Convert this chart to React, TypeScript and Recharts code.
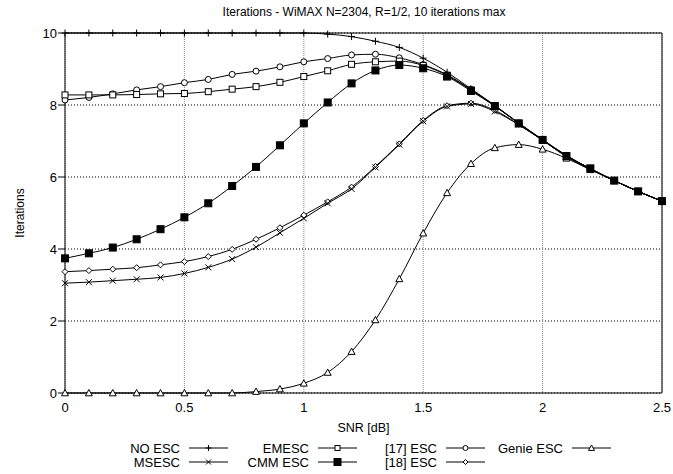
import { LineChart, Line, XAxis, YAxis, CartesianGrid, ReferenceLine } from 'recharts'

const snr = [0, 0.1, 0.2, 0.3, 0.4, 0.5, 0.6, 0.7, 0.8, 0.9, 1, 1.1, 1.2, 1.3, 1.4, 1.5, 1.6, 1.7, 1.8, 1.9, 2, 2.1, 2.2, 2.3, 2.4, 2.5]

const noEsc = [10, 10, 10, 10, 10, 10, 10, 10, 10, 10, 10, 9.97, 9.9, 9.77, 9.6, 9.3, 8.91, 8.45, 7.99, 7.5, 7.04, 6.6, 6.23, 5.9, 5.6, 5.33]
const msEsc = [3.05, 3.08, 3.12, 3.16, 3.21, 3.32, 3.49, 3.72, 4.05, 4.45, 4.85, 5.27, 5.67, 6.27, 6.9, 7.55, 7.96, 8.03, 7.82, 7.45, 7.02, 6.57, 6.22, 5.9, 5.6, 5.33]
const emEsc = [8.28, 8.28, 8.28, 8.29, 8.31, 8.32, 8.37, 8.44, 8.51, 8.63, 8.79, 8.95, 9.13, 9.2, 9.22, 9.1, 8.82, 8.42, 7.98, 7.49, 7.03, 6.59, 6.23, 5.9, 5.6, 5.33]
const cmmEsc = [3.74, 3.88, 4.04, 4.27, 4.55, 4.88, 5.27, 5.75, 6.28, 6.88, 7.49, 8.07, 8.6, 8.96, 9.11, 9.02, 8.79, 8.39, 7.97, 7.49, 7.03, 6.58, 6.24, 5.9, 5.6, 5.33]
const esc17 = [8.14, 8.21, 8.31, 8.42, 8.51, 8.62, 8.71, 8.85, 8.94, 9.06, 9.2, 9.29, 9.39, 9.41, 9.31, 9.12, 8.84, 8.43, 7.98, 7.49, 7.03, 6.59, 6.23, 5.9, 5.6, 5.33]
const esc18 = [3.37, 3.4, 3.44, 3.48, 3.56, 3.65, 3.79, 3.99, 4.27, 4.59, 4.94, 5.31, 5.72, 6.29, 6.92, 7.57, 7.98, 8.05, 7.85, 7.46, 7.02, 6.57, 6.22, 5.9, 5.6, 5.33]
const genieEsc = [0, 0, 0, 0, 0, 0, 0, 0, 0.04, 0.11, 0.27, 0.57, 1.15, 2.03, 3.17, 4.44, 5.56, 6.37, 6.81, 6.9, 6.77, 6.52, 6.2, 5.9, 5.6, 5.33]

const xTicks = [0, 0.5, 1, 1.5, 2, 2.5]
const yTicks = [0, 2, 4, 6, 8, 10]

type Shape = 'plus' | 'cross' | 'square' | 'fsquare' | 'circle' | 'diamond' | 'triangle'

// legend order (column-major, two rows)
const series: { key: string; name: string; values: number[]; shape: Shape }[] = [
  { key: 'noEsc', name: 'NO ESC', values: noEsc, shape: 'plus' },
  { key: 'msEsc', name: 'MSESC', values: msEsc, shape: 'cross' },
  { key: 'emEsc', name: 'EMESC', values: emEsc, shape: 'square' },
  { key: 'cmmEsc', name: 'CMM ESC', values: cmmEsc, shape: 'fsquare' },
  { key: 'esc17', name: '[17] ESC', values: esc17, shape: 'circle' },
  { key: 'esc18', name: '[18] ESC', values: esc18, shape: 'diamond' },
  { key: 'genieEsc', name: 'Genie ESC', values: genieEsc, shape: 'triangle' },
]

// draw order: filled squares last
const drawOrder = ['genieEsc', 'esc18', 'msEsc', 'esc17', 'emEsc', 'noEsc', 'cmmEsc']

const data = snr.map((x, i) => {
  const row: Record<string, number> = { snr: x }
  series.forEach((s) => (row[s.key] = s.values[i]))
  return row
})

const FONT = '"Liberation Sans", Arial, sans-serif'

function Marker({ shape, cx, cy, s }: { shape: Shape; cx: number; cy: number; s: number }) {
  const st = { stroke: '#000', strokeWidth: 1 }
  switch (shape) {
    case 'plus':
      return <path d={`M${cx - s},${cy}H${cx + s}M${cx},${cy - s}V${cy + s}`} {...st} fill="none" />
    case 'cross':
      return <path d={`M${cx - s},${cy - s}L${cx + s},${cy + s}M${cx - s},${cy + s}L${cx + s},${cy - s}`} {...st} fill="none" />
    case 'square':
      return <rect x={cx - s} y={cy - s} width={2 * s} height={2 * s} {...st} fill="#fff" />
    case 'fsquare':
      return <rect x={cx - s} y={cy - s} width={2 * s} height={2 * s} {...st} fill="#000" />
    case 'circle':
      return <circle cx={cx} cy={cy} r={s} {...st} fill="#fff" />
    case 'diamond':
      return <path d={`M${cx},${cy - s}L${cx + s},${cy}L${cx},${cy + s}L${cx - s},${cy}Z`} {...st} fill="#fff" />
    case 'triangle':
      return <path d={`M${cx},${cy - s}L${cx + s},${cy + s * 0.8}L${cx - s},${cy + s * 0.8}Z`} {...st} fill="#fff" />
  }
  return null
}

const plotSize: Record<Shape, number> = { plus: 3.5, cross: 3, square: 3, fsquare: 3.5, circle: 3, diamond: 3, triangle: 3.5 }
const legendSize: Record<Shape, number> = { plus: 3, cross: 2.5, square: 2.5, fsquare: 3.5, circle: 2.5, diamond: 2.5, triangle: 3 }

const legendCols = [180, 309, 437, 563]
const legendRows = [448, 462]

function Overlay() {
  return (
    <svg width={673} height={474} style={{ position: 'absolute', left: 0, top: 0, pointerEvents: 'none' }}>
      <text x={364} y={16} textAnchor="middle" fontSize={12} fontFamily={FONT} fill="#000">
        Iterations - WiMAX N=2304, R=1/2, 10 iterations max
      </text>
      {series.map((s, i) => {
        const right = legendCols[Math.floor(i / 2)]
        const cy = legendRows[i % 2]
        const x0 = right + 9
        const x1 = x0 + 39
        return (
          <g key={s.key}>
            <text x={right} y={cy + 4.5} textAnchor="end" fontSize={13} fontFamily={FONT} fill="#000">
              {s.name}
            </text>
            <line x1={x0} x2={x1} y1={cy} y2={cy} stroke="#000" strokeWidth={1} />
            <Marker shape={s.shape} cx={(x0 + x1) / 2} cy={cy} s={legendSize[s.shape]} />
          </g>
        )
      })}
    </svg>
  )
}

export default function App() {
  return (
    <div style={{ position: 'absolute', left: 0, top: 0, width: 673, height: 474, background: '#fff' }}>
      <LineChart width={673} height={474} data={data} margin={{ top: 33, right: 11, left: 0, bottom: 41 }}>
        <CartesianGrid horizontal vertical={false} stroke="#000" strokeDasharray="1 2" />
        <CartesianGrid horizontal={false} vertical stroke="#888" strokeDasharray="1 1" />
        <XAxis
          dataKey="snr"
          type="number"
          domain={[0, 2.5]}
          ticks={xTicks}
          tickFormatter={(v) => String(v)}
          tickLine={false}
          tickSize={8}
          tickMargin={2}
          height={40}
          axisLine={{ stroke: '#000' }}
          tick={{ fill: '#000', fontSize: 13, fontFamily: FONT }}
          label={{ value: 'SNR [dB]', position: 'insideBottom', offset: 1, fill: '#000', fontSize: 12.5, fontFamily: FONT }}
        />
        <YAxis
          type="number"
          domain={[0, 10]}
          ticks={yTicks}
          width={65}
          tickSize={7}
          tickMargin={1}
          axisLine={{ stroke: '#000' }}
          tickLine={{ stroke: '#000' }}
          tick={{ fill: '#000', fontSize: 13, fontFamily: FONT }}
          label={{
            value: 'Iterations',
            angle: -90,
            position: 'insideLeft',
            offset: 20,
            style: { textAnchor: 'middle' },
            fill: '#000',
            fontSize: 12,
            fontFamily: FONT,
          }}
        />
        <ReferenceLine y={10} stroke="#000" />
        <ReferenceLine x={2.5} stroke="#000" />
        {drawOrder.map((k) => {
          const s = series.find((d) => d.key === k)!
          return (
            <Line
              key={s.key}
              dataKey={s.key}
              name={s.name}
              type="monotone"
              stroke="#000"
              strokeWidth={1}
              isAnimationActive={false}
              activeDot={false}
              dot={(p: any) => <Marker key={`${s.key}-${p.index}`} shape={s.shape} cx={p.cx} cy={p.cy} s={plotSize[s.shape]} />}
            />
          )
        })}
      </LineChart>
      <Overlay />
    </div>
  )
}
